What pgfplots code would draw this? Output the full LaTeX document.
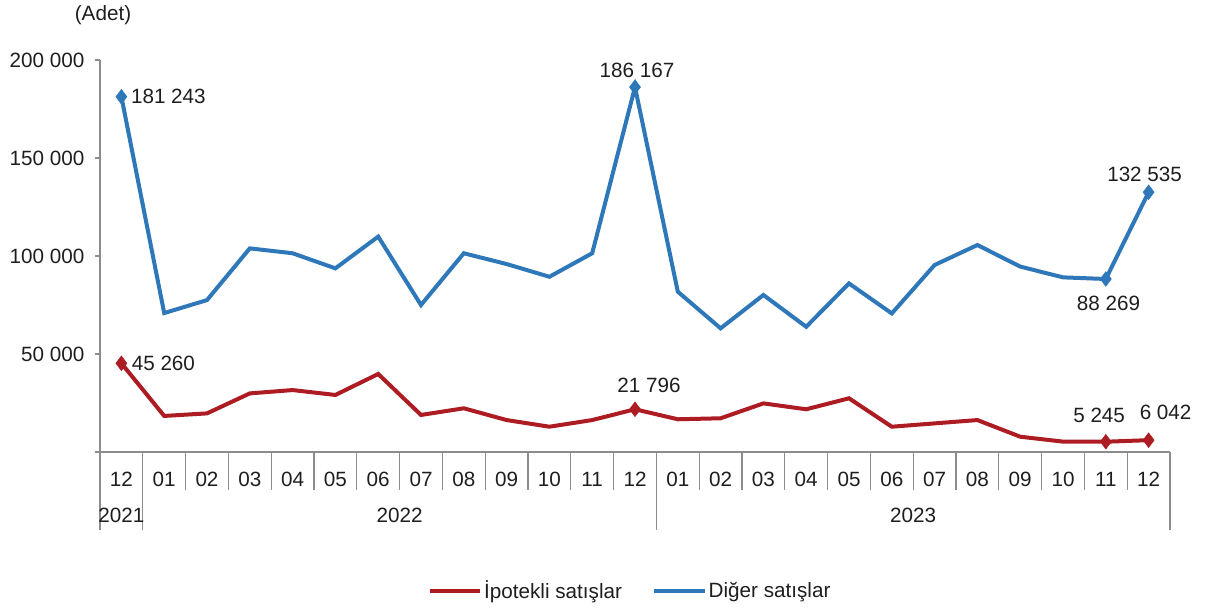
\documentclass[border=0pt]{standalone}
\usepackage{pgfplots}
\pgfplotsset{compat=1.18}
\usepackage{fontspec}
\setmainfont{Liberation Sans}
\definecolor{myblue}{RGB}{46,120,186}
\definecolor{myred}{RGB}{172,28,34}
\definecolor{txt}{RGB}{30,30,30}
\definecolor{sep}{RGB}{140,140,140}

\pgfplotstableread{
x ipo diger
0 45260 181243
1 18400 70900
2 19700 77500
3 29900 103900
4 31600 101400
5 29100 93700
6 39800 109900
7 18900 75000
8 22300 101400
9 16300 95900
10 12900 89400
11 16300 101400
12 21796 186167
13 16700 81800
14 17200 63100
15 24800 80100
16 21800 63900
17 27400 86000
18 12900 70700
19 14600 95400
20 16300 105600
21 7800 94600
22 5300 89100
23 5245 88269
24 6042 132535
}\datatable

\begin{document}
\begin{tikzpicture}[font=\fontsize{15.5}{18}\selectfont, text=txt]
\useasboundingbox (0,0) rectangle (903.75pt,455.25pt);
\begin{axis}[
  at={(75pt,116.25pt)}, anchor=south west,
  scale only axis, width=802.5pt, height=294pt,
  xmin=-0.5, xmax=24.5, ymin=0, ymax=200000,
  clip=false, scaled y ticks=false,
  axis x line*=bottom, axis y line*=left,
  axis line style={sep, line width=0.8pt},
  xtick={0,...,24},
  xticklabels={12,01,02,03,04,05,06,07,08,09,10,11,12,01,02,03,04,05,06,07,08,09,10,11,12},
  xtick style={draw=none},
  xticklabel style={yshift=-8pt},
  ytick={0,50000,100000,150000,200000},
  yticklabels={,50 000,100 000,150 000,200 000},
  ytick style={sep, line width=0.8pt},
  yticklabel style={xshift=-4.5pt},
  tick align=outside, major tick length=3.75pt,
  /pgf/number format/assume math mode=true,
  legend style={at={(0.4953,-0.3546)}, anchor=center, draw=none, fill=none,
    legend columns=2, font=\fontsize{15.5}{18}\selectfont,
    /tikz/every even column/.append style={column sep=21pt},
    nodes={inner sep=1.5pt}},
  legend cell align=left,
  legend image code/.code={\draw[#1, line width=3pt] (0pt,0pt) -- (38pt,0pt);},
]
\addplot[myred, line width=3pt] table[x=x, y=ipo] {\datatable};
\addlegendentry{İpotekli satışlar}
\addplot[myblue, line width=3pt] table[x=x, y=diger] {\datatable};
\addlegendentry{Diğer satışlar}

\addplot[only marks, mark=diamond*, mark size=5.5pt, myred, forget plot] coordinates {(0,45260) (12,21796) (23,5245) (24,6042)};
\addplot[only marks, mark=diamond*, mark size=5.5pt, myblue, forget plot] coordinates {(0,181243) (12,186167) (23,88269) (24,132535)};

\pgfplotsinvokeforeach{-0.5,0.5,...,24.5}{\draw[sep, line width=0.8pt] (axis cs:#1,0) -- ++(0pt,-28.5pt);}
\pgfplotsinvokeforeach{-0.5,0.5,12.5,24.5}{\draw[sep, line width=0.8pt] (axis cs:#1,0) -- ++(0pt,-58.5pt);}

\node[xshift=35.25pt] at (axis cs:0,181243) {181 243};
\node[xshift=31.5pt] at (axis cs:0,45260) {45 260};
\node[yshift=12.75pt, xshift=1.5pt] at (axis cs:12,186167) {186 167};
\node[xshift=10.5pt, yshift=18pt] at (axis cs:12,21796) {21 796};
\node[xshift=-3pt, yshift=13.5pt] at (axis cs:24,132535) {132 535};
\node[xshift=2pt, yshift=-18pt] at (axis cs:23,88269) {88 269};
\node[xshift=-5pt, yshift=19.5pt] at (axis cs:23,5245) {5 245};
\node[xshift=12.75pt, yshift=21pt] at (axis cs:24,6042) {6 042};

\node at (axis cs:0,0) [yshift=-47.25pt] {2021};
\node at (axis cs:6.5,0) [yshift=-47.25pt] {2022};
\node at (axis cs:18.5,0) [yshift=-47.25pt] {2023};
\node at (axis cs:-0.5,200000) [xshift=2.25pt, yshift=33.75pt] {(Adet)};
\end{axis}
\end{tikzpicture}
\end{document}
